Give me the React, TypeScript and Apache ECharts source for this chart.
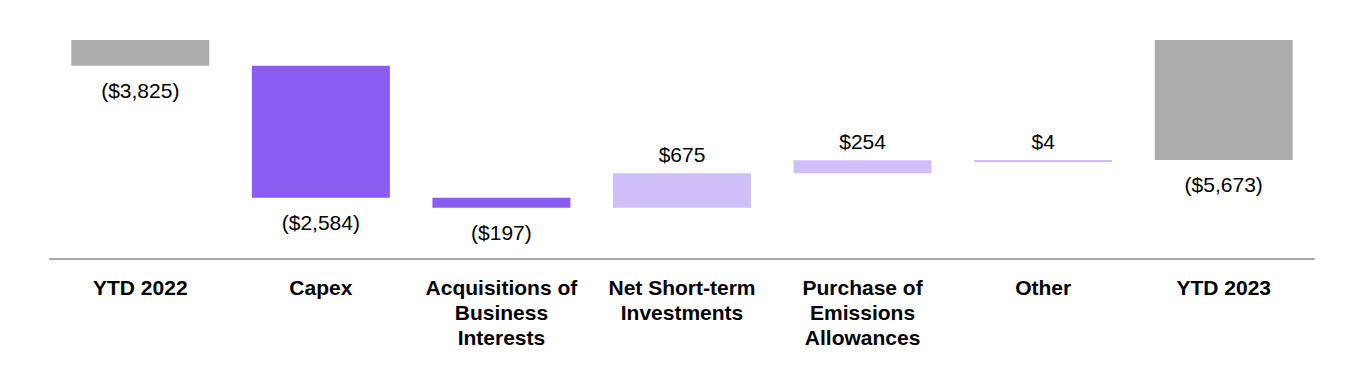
import React, { useEffect, useRef } from "react";
import * as echarts from "echarts";

const categories = [
  "YTD 2022",
  "Capex",
  "Acquisitions of\nBusiness\nInterests",
  "Net Short-term\nInvestments",
  "Purchase of\nEmissions\nAllowances",
  "Other",
  "YTD 2023",
];
const amounts = [-3825, -2584, -197, 675, 254, 4, -5673];
const isTotal = [true, false, false, false, false, false, true];

const FONT = '"Liberation Sans", Arial, sans-serif';
const GRAY = "#ACACAC";
const DARK = "#8B5CF2";
const LIGHT = "#D1BFF9";

function fmt(v: number): string {
  const s = Math.abs(v).toLocaleString("en-US");
  return v < 0 ? `($${s})` : `$${s}`;
}

export default function App() {
  const ref = useRef<HTMLDivElement>(null);
  useEffect(() => {
    if (!ref.current) return;
    const chart = echarts.init(ref.current, undefined, { renderer: "svg" });

    const baseData: number[] = [];
    const visData: any[] = [];
    let level = 0;
    amounts.forEach((a, i) => {
      let base: number;
      let vis: number;
      if (isTotal[i]) {
        base = 0;
        vis = a;
        level = a;
      } else {
        const next = level + a;
        const hi = Math.max(level, next);
        const lo = Math.min(level, next);
        base = hi;
        vis = lo - hi;
        level = next;
      }
      baseData.push(base);
      const color = isTotal[i] ? GRAY : a < 0 ? DARK : LIGHT;
      const below = a < 0;
      visData.push({
        value: vis,
        itemStyle: { color },
        label: {
          position: below ? "bottom" : "top",
          distance: below ? 14 : 8,
        },
      });
    });

    chart.setOption({
      animation: false,
      grid: { left: 50, right: 50, top: 40, bottom: 111, containLabel: false },
      xAxis: {
        type: "category",
        data: categories,
        axisTick: { show: false },
        axisLine: { lineStyle: { color: "#A6A6A6", width: 2 } },
        axisLabel: {
          interval: 0,
          color: "#000",
          fontSize: 21,
          fontWeight: "bold",
          fontFamily: FONT,
          lineHeight: 25,
          margin: 16,
        },
      },
      yAxis: {
        type: "value",
        min: -7609,
        max: -3322,
        show: false,
        splitLine: { show: false },
      },
      series: [
        {
          type: "bar",
          stack: "wf",
          data: baseData,
          barWidth: 138,
          itemStyle: { color: "transparent" },
          silent: true,
          label: { show: false },
        },
        {
          type: "bar",
          stack: "wf",
          data: visData,
          barWidth: 138,
          barMinHeight: 2,
          label: {
            show: true,
            color: "#000",
            fontSize: 21,
            fontFamily: FONT,
            formatter: (p: any) => fmt(amounts[p.dataIndex]),
          },
        },
      ],
    });
    return () => chart.dispose();
  }, []);
  return (
    <div
      ref={ref}
      style={{ position: "fixed", left: 0, top: 0, width: 1364, height: 370, background: "#fff" }}
    />
  );
}
